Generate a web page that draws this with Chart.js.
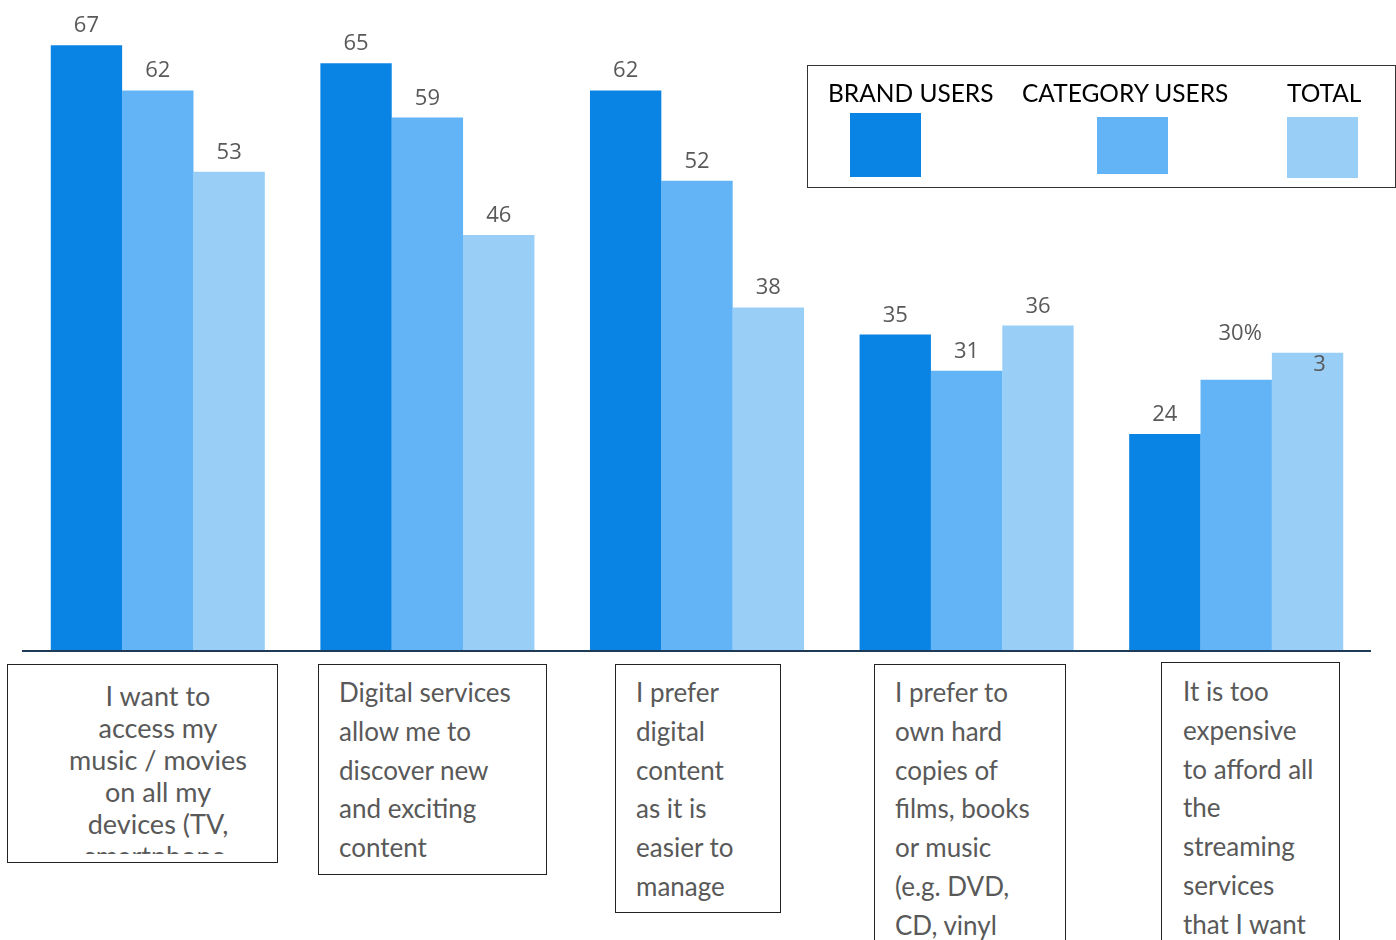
<!DOCTYPE html>
<html>
<head>
<meta charset="utf-8">
<script src="https://cdn.jsdelivr.net/npm/chart.js@4"></script>
<style>
  html, body { margin: 0; padding: 0; background: #fff; overflow: hidden; }
  body { width: 1396px; height: 940px; position: relative; font-family: Lato, "Open Sans", sans-serif; }
  #wrap { position: absolute; left: 0; top: 0; width: 1396px; height: 653px; }
  .catbox { position: absolute; border: 1.5px solid #222; box-sizing: border-box; background: #fff; }
  .catbox .txt { position: absolute; overflow: hidden; color: #595959; font-size: 25px; line-height: 38.8px; white-space: nowrap; }
  #legend { position: absolute; left: 807px; top: 65px; width: 589px; height: 123px; border: 1.5px solid #333; box-sizing: border-box; }
  .lg-text { position: absolute; top: 12px; font-size: 24.5px; color: #000; white-space: nowrap; }
  .lg-sw { position: absolute; width: 71px; }
</style>
</head>
<body>
<div id="wrap"><canvas id="chart"></canvas></div>
<div id="legend"></div>
<div id="boxes"></div>
<script>
// categories (each one is a list of wrapped lines, as in the boxes under the axis)
const categories = [
  ['I want to', 'access my', 'music / movies', 'on all my', 'devices (TV,', 'smartphone,', 'tablet)'],
  ['Digital services', 'allow me to', 'discover new', 'and exciting', 'content'],
  ['I prefer', 'digital', 'content', 'as it is', 'easier to', 'manage'],
  ['I prefer to', 'own hard', 'copies of', 'films, books', 'or music', '(e.g. DVD,', 'CD, vinyl', 'records)'],
  ['It is too', 'expensive', 'to afford all', 'the', 'streaming', 'services', 'that I want', 'to use']
];
const seriesNames = ['BRAND USERS', 'CATEGORY USERS', 'TOTAL'];
const brandUsers = [67, 65, 62, 35, 24];
const categoryUsers = [62, 59, 52, 31, 30];
const totalUsers = [53, 46, 38, 36, 33];
// value labels as printed on the chart
const brandLabels = ['67', '65', '62', '35', '24'];
const categoryLabels = ['62', '59', '52', '31', '30%'];
const totalLabels = ['53', '46', '38', '36', '3'];

const colors = ['#0a84e4', '#62b4f7', '#99cef7'];
// a couple of labels sit off their usual spot in the original
const labelNudge = { '1:4': { dx: 4, dy: -27 }, '2:4': { dx: 12, dy: 31 } };

const valueLabels = {
  id: 'valueLabels',
  afterDatasetsDraw(chart) {
    const ctx = chart.ctx;
    const texts = [brandLabels, categoryLabels, totalLabels];
    ctx.save();
    ctx.font = '22px "Open Sans", Lato, sans-serif';
    ctx.fillStyle = '#595959';
    ctx.textAlign = 'center';
    ctx.textBaseline = 'alphabetic';
    chart.data.datasets.forEach((ds, di) => {
      chart.getDatasetMeta(di).data.forEach((bar, i) => {
        const n = labelNudge[di + ':' + i] || { dx: 0, dy: 0 };
        ctx.fillText(texts[di][i], bar.x + n.dx, bar.y - 13 + n.dy);
      });
    });
    ctx.restore();
  }
};

const baseline = {
  id: 'baseline',
  afterDatasetsDraw(chart) {
    const ctx = chart.ctx;
    const y = chart.scales.y.getPixelForValue(0);
    ctx.save();
    ctx.strokeStyle = '#1f3a57';
    ctx.lineWidth = 2;
    ctx.beginPath();
    ctx.moveTo(chart.chartArea.left - 1, y);
    ctx.lineTo(chart.chartArea.right, y);
    ctx.stroke();
    ctx.restore();
  }
};

const chart = new Chart(document.getElementById('chart'), {
  type: 'bar',
  data: {
    labels: categories,
    datasets: [
      { label: seriesNames[0], data: brandUsers, backgroundColor: colors[0] },
      { label: seriesNames[1], data: categoryUsers, backgroundColor: colors[1] },
      { label: seriesNames[2], data: totalUsers, backgroundColor: colors[2] }
    ]
  },
  options: {
    responsive: true,
    maintainAspectRatio: false,
    animation: false,
    layout: { padding: { left: 23, right: 25, top: 0, bottom: 2 } },
    datasets: { bar: { categoryPercentage: 0.794, barPercentage: 1.0, borderWidth: 0 } },
    scales: {
      x: { display: false },
      y: { display: false, min: 0, max: 72 }
    },
    plugins: { legend: { display: false }, tooltip: { enabled: false } }
  },
  plugins: [valueLabels, baseline]
});

// legend box, built from the datasets
const legendSpots = [
  { text: 20, sw: 42, top: 47, h: 64 },
  { text: 214, sw: 289, top: 51, h: 57 },
  { text: 479, sw: 479, top: 51, h: 61 }
];
const legend = document.getElementById('legend');
chart.data.datasets.forEach((ds, i) => {
  const s = legendSpots[i];
  const t = document.createElement('div');
  t.className = 'lg-text';
  t.style.left = s.text + 'px';
  t.textContent = ds.label;
  legend.appendChild(t);
  const sw = document.createElement('div');
  sw.className = 'lg-sw';
  sw.style.left = s.sw + 'px';
  sw.style.top = s.top + 'px';
  sw.style.height = s.h + 'px';
  sw.style.background = ds.backgroundColor;
  legend.appendChild(sw);
});

// category boxes below the axis
const boxSpots = [
  { l: 7, t: 664, w: 271, h: 199, tx: 0, ty: 15, tw: 300, th: 174, align: 'center', lh: 32, fs: 27 },
  { l: 318, t: 664, w: 229, h: 211, tx: 20, ty: 8, tw: 205, th: 196, align: 'left', lh: 38.8, fs: 26 },
  { l: 615, t: 664, w: 166, h: 249, tx: 20, ty: 8, tw: 142, th: 237, align: 'left', lh: 38.8, fs: 26 },
  { l: 874, t: 664, w: 192, h: 300, tx: 20, ty: 8, tw: 168, th: 290, align: 'left', lh: 38.8, fs: 26 },
  { l: 1161, t: 662, w: 179, h: 300, tx: 21, ty: 9, tw: 155, th: 290, align: 'left', lh: 38.8, fs: 26 }
];
const boxes = document.getElementById('boxes');
chart.data.labels.forEach((lines, i) => {
  const s = boxSpots[i];
  const b = document.createElement('div');
  b.className = 'catbox';
  b.style.cssText = `left:${s.l}px;top:${s.t}px;width:${s.w}px;height:${s.h}px;`;
  const t = document.createElement('div');
  t.className = 'txt';
  t.style.cssText = `left:${s.tx}px;top:${s.ty}px;width:${s.tw}px;height:${s.th}px;text-align:${s.align};line-height:${s.lh}px;font-size:${s.fs}px;`;
  t.innerHTML = lines.join('<br>');
  b.appendChild(t);
  boxes.appendChild(b);
});
</script>
</body>
</html>
